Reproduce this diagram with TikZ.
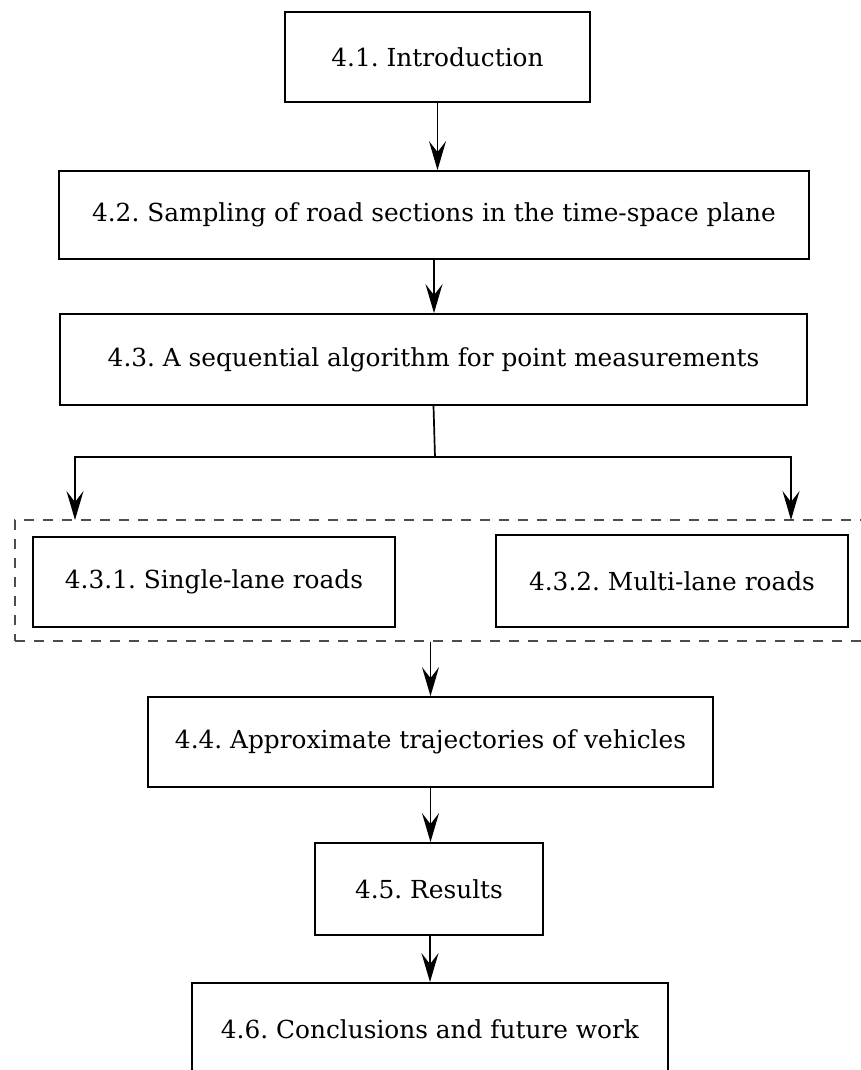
\documentclass[tikz,border=0pt]{standalone}
\usepackage{fontspec}
\setmainfont{DejaVu Serif}
\frenchspacing
\usetikzlibrary{arrows.meta}

\tikzset{
  secbox/.style={draw, line width=1.8pt, inner sep=0pt, font=\fontsize{24.8}{29}\selectfont},
  arr/.style={line width=1.7pt, -{Stealth[length=29pt,width=17pt,inset=11pt]}},
  grpbox/.style={draw=black!70, line width=1.3pt, dash pattern=on 10pt off 9pt, inner sep=0pt}
}

\begin{document}
\begin{tikzpicture}[x=1pt,y=-1pt]
\useasboundingbox (0,0) rectangle (860,1070);
% sections
\node[secbox, minimum width=305pt, minimum height=90pt] (intro) at (437.5,57) {4.1. Introduction};
\node[secbox, minimum width=750pt, minimum height=88pt] (sampling) at (434,215) {4.2. Sampling of road sections in the time-space plane};
\node[secbox, minimum width=747pt, minimum height=91pt] (seqalg) at (433.5,359.5) {4.3. A sequential algorithm for point measurements};
\node[grpbox, minimum width=880pt, minimum height=121pt] (lanes) at (455,580.5) {};
\node[secbox, minimum width=362pt, minimum height=90pt] (single) at (214,582) {4.3.1. Single-lane roads};
\node[secbox, minimum width=352pt, minimum height=92pt] (multi) at (672,581) {4.3.2. Multi-lane roads};
\node[secbox, minimum width=565pt, minimum height=90pt] (approx) at (430.5,742) {4.4. Approximate trajectories of vehicles};
\node[secbox, minimum width=228pt, minimum height=92pt] (results) at (429,889) {4.5. Results};
\node[secbox, minimum width=476pt, minimum height=92pt] (concl) at (430,1029) {4.6. Conclusions and future work};

% connectors
\draw[arr] (intro.south) -- (intro.south |- sampling.north);
\draw[arr] (sampling.south) -- (sampling.south |- seqalg.north);
\coordinate (lft) at (75,520);
\coordinate (rgt) at (791,520);
\draw[line width=1.7pt] (seqalg.south) -- (435,457) coordinate (split);
\draw[arr] (split) -| (lft);
\draw[arr] (split) -| (rgt);
\draw[arr] (lanes.south -| approx.north) -- (approx.north);
\draw[arr] (approx.south) -- (approx.south |- results.north);
\draw[arr] (results.south -| concl.north) -- (concl.north);
\end{tikzpicture}
\end{document}
